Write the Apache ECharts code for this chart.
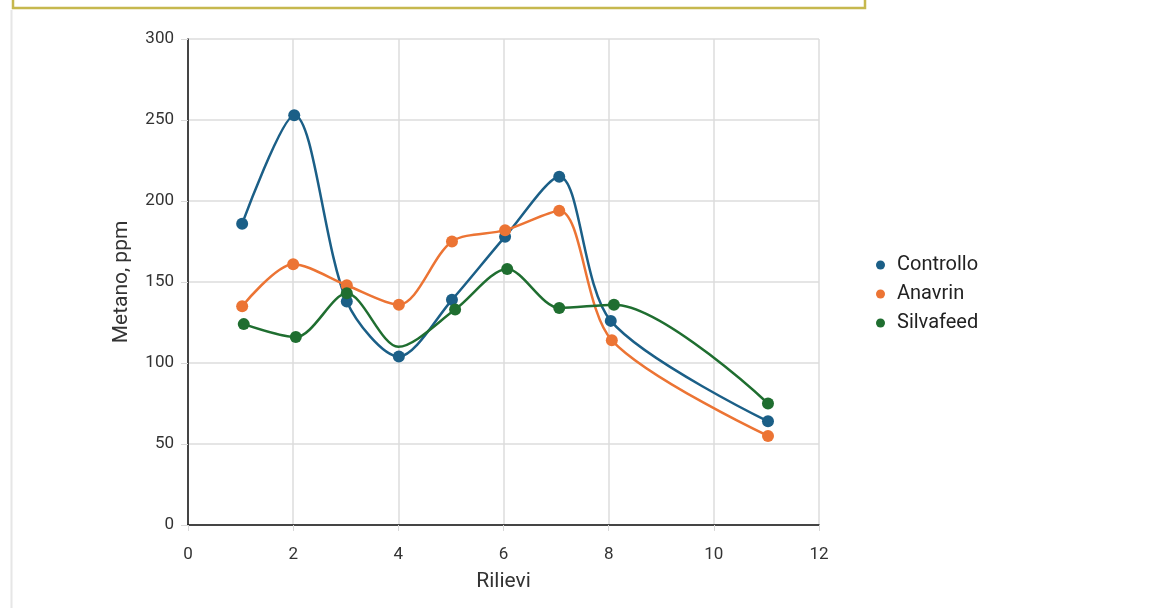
<!DOCTYPE html>
<html><head><meta charset="utf-8">
<script src="https://cdn.jsdelivr.net/npm/echarts@6/dist/echarts.min.js"></script>
<style>html,body{margin:0;padding:0;background:#fff;}#c{width:1169px;height:608px;}</style>
</head><body><div id="c"></div>
<script>
const seriesNames = ["Controllo", "Anavrin", "Silvafeed"];
const controlloX = [1.03, 2.02, 3.02, 4.01, 5.02, 6.03, 7.06, 8.04, 11.03];
const controlloY = [186, 253, 138, 104, 139, 178, 215, 126, 64];
const anavrinX = [1.03, 2.0, 3.02, 4.01, 5.02, 6.03, 7.06, 8.06, 11.03];
const anavrinY = [135, 161, 148, 136, 175, 182, 194, 114, 55];
const silvafeedX = [1.06, 2.05, 3.02, 4.0, 5.08, 6.07, 7.06, 8.1, 11.03];
const silvafeedY = [124, 116, 143, 110, 133, 158, 134, 136, 75];
const silvafeedHidden = [false, false, false, true, false, false, false, false, false];
const xTicks = [0, 2, 4, 6, 8, 10, 12];
const yTicks = [0, 50, 100, 150, 200, 250, 300];

const colors = ["#1b5f87", "#ec7434", "#1f6e30"];
function pts(xs, ys, hidden) {
  return xs.map((x, i) => {
    const d = { value: [x, ys[i]] };
    if (hidden && hidden[i]) d.symbolSize = 0;
    return d;
  });
}
const font = "Roboto";
const chart = echarts.init(document.getElementById('c'));
chart.setOption({
  animation: false,
  color: colors,
  graphic: [
    { type: 'rect', shape: { x: 13, y: -10, width: 852, height: 18 }, style: { fill: 'none', stroke: '#c6b84e', lineWidth: 2.5 } },
    { type: 'line', shape: { x1: 11.5, y1: 10, x2: 11.5, y2: 608 }, style: { stroke: '#e6e6e6', lineWidth: 2 } }
  ],
  grid: { left: 188, right: 350, top: 39, bottom: 83 },
  legend: {
    orient: 'vertical', left: 871, top: 250, itemGap: 9,
    icon: 'circle', itemWidth: 9, itemHeight: 9,
    textStyle: { fontFamily: font, fontSize: 20, color: '#222', padding: [0, 0, 0, 7] },
    data: seriesNames
  },
  xAxis: {
    type: 'value', min: xTicks[0], max: xTicks[xTicks.length - 1], interval: 2,
    name: 'Rilievi', nameLocation: 'middle', nameGap: 46,
    nameTextStyle: { fontFamily: font, fontSize: 21, color: '#333' },
    axisLine: { show: true, lineStyle: { color: '#111', width: 1.5 } },
    axisTick: { show: true, length: 6, lineStyle: { color: '#d9d9d9' } },
    axisLabel: { fontFamily: font, fontSize: 17, color: '#333', margin: 21 },
    splitLine: { show: true, lineStyle: { color: '#dcdcdc', width: 1.5 } }
  },
  yAxis: {
    type: 'value', min: yTicks[0], max: yTicks[yTicks.length - 1], interval: 50,
    name: 'Metano, ppm', nameLocation: 'middle', nameGap: 56,
    nameTextStyle: { fontFamily: font, fontSize: 21, color: '#333' },
    axisLine: { show: true, lineStyle: { color: '#111', width: 1.5 } },
    axisTick: { show: true, length: 7, lineStyle: { color: '#d9d9d9' } },
    axisLabel: { fontFamily: font, fontSize: 17, color: '#333', margin: 14 },
    splitLine: { show: true, lineStyle: { color: '#dcdcdc', width: 1.5 } }
  },
  series: [
    { name: seriesNames[0], type: 'line', smooth: 0.3, symbol: 'circle', symbolSize: 12, lineStyle: { width: 2.5 }, data: pts(controlloX, controlloY) },
    { name: seriesNames[1], type: 'line', smooth: 0.3, symbol: 'circle', symbolSize: 12, lineStyle: { width: 2.5 }, data: pts(anavrinX, anavrinY) },
    { name: seriesNames[2], type: 'line', smooth: 0.3, symbol: 'circle', symbolSize: 12, lineStyle: { width: 2.5 }, data: pts(silvafeedX, silvafeedY, silvafeedHidden) }
  ]
});
</script></body></html>
